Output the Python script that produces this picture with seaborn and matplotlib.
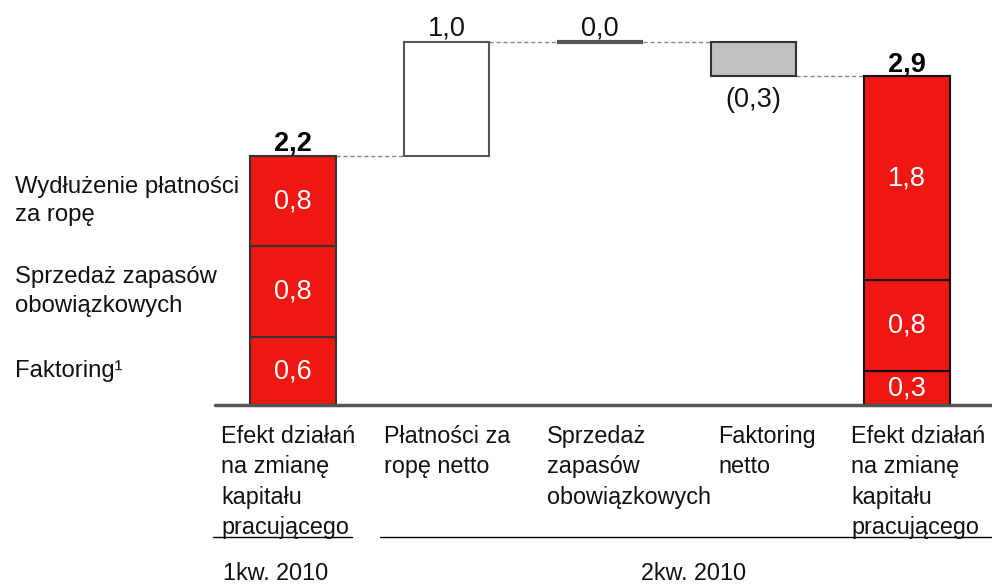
import matplotlib
matplotlib.use("Agg")
import matplotlib.pyplot as plt
import seaborn as sns
import numpy as np
import warnings
warnings.filterwarnings("ignore")

# ---------------- data ----------------
categories = ["Efekt działań\nna zmianę\nkapitału\npracującego",
              "Płatności za\nropę netto",
              "Sprzedaż\nzapasów\nobowiązkowych",
              "Faktoring\nnetto",
              "Efekt działań\nna zmianę\nkapitału\npracującego"]
steps = [2.2, 1.0, 0.0, -0.3, 2.9]          # waterfall values
start_segments = [0.6, 0.8, 0.8]             # 1kw. 2010 composition
end_segments = [0.3, 0.8, 1.8]               # 2kw. 2010 composition
segment_names = ["Faktoring\u00b9", "Sprzedaż zapasów\nobowiązkowych",
                 "Wydłużenie płatności\nza ropę"]
periods = ["1kw. 2010", "2kw. 2010"]

def fmt(v):
    s = f"{abs(v):.1f}".replace(".", ",")
    return f"({s})" if v < 0 else s

# ---------------- style ----------------
sns.set_theme(style="white")
plt.rcParams["font.family"] = ["Liberation Sans", "DejaVu Sans"]

RED = "#ee1712"
W, H = 992, 587
fig = plt.figure(figsize=(W / 100, H / 100), dpi=100)
ax = fig.add_axes([0, 0, 1, 1])

# pixel geometry -> data limits (layout only)
x0px, dxpx = 293, 153.5
y0px, dypx = 405, 113.3
ax.set_xlim(-x0px / dxpx, (W - x0px) / dxpx)
ax.set_ylim(-(H - y0px) / dypx, y0px / dypx)
ax.axis("off")

bw = 0.56
pos = np.arange(len(steps))
VAL_FS = 19.5

def px2fig(x, y):
    return x / W, 1 - y / H

# first stacked total
bottom = 0
for i, s in enumerate(start_segments):
    ax.bar(pos[0], s, bottom=bottom, width=bw, color=RED, edgecolor="#333333", linewidth=1.5, zorder=3)
    ax.text(pos[0], bottom + s / 2, fmt(s), color="white", ha="center", va="center", fontsize=VAL_FS, zorder=5)
    # left-side segment labels
    ax.text(-1.811, bottom + s / 2, segment_names[i], ha="left", va="center", fontsize=17.2,
            linespacing=1.4, color="#111111")
    bottom += s
ax.text(pos[0], steps[0] + 0.045, fmt(steps[0]), ha="center", va="baseline", fontsize=VAL_FS,
        fontweight="bold", color="black")

# floating steps
running = steps[0]
levels = [running]
for i in range(1, 4):
    v = steps[i]
    b = running if v >= 0 else running + v
    if i == 1:
        ax.bar(pos[i], v, bottom=b, width=bw, color="white", edgecolor="#555555", linewidth=1.5, zorder=3)
    elif i == 2:
        ax.bar(pos[i], v, bottom=b, width=bw, color="#555555", edgecolor="#555555", linewidth=3, zorder=3)
    else:
        ax.bar(pos[i], abs(v), bottom=b, width=bw, color="#c0c0c0", edgecolor="#333333", linewidth=1.5, zorder=3)
    if v >= 0:
        ax.text(pos[i], running + v + 0.06, fmt(v), ha="center", va="baseline", fontsize=VAL_FS, color="#111111")
    else:
        ax.text(pos[i], running + v - 0.09, fmt(v), ha="center", va="top", fontsize=VAL_FS, color="#111111")
    running += v
    levels.append(running)

# final stacked total
bottom = 0
for s in end_segments:
    ax.bar(pos[4], s, bottom=bottom, width=bw, color=RED, edgecolor="#111111", linewidth=1.5, zorder=3)
    ax.text(pos[4], bottom + s / 2, fmt(s), color="white", ha="center", va="center", fontsize=VAL_FS, zorder=5)
    bottom += s
ax.text(pos[4], steps[4] + 0.045, fmt(steps[4]), ha="center", va="baseline", fontsize=VAL_FS,
        fontweight="bold", color="black")

# dashed connectors
for i in range(4):
    ax.plot([pos[i] + bw / 2, pos[i + 1] - bw / 2], [levels[i], levels[i]], ls=(0, (3, 2)),
            color="#888888", lw=1, zorder=2)

# baseline
ax.axhline(0, xmin=215 / W, xmax=1, color="#555555", lw=2.5, zorder=4)

# category labels (left aligned under each bar)
cat_x = [221, 384, 547, 718, 851]
for cx, lab in zip(cat_x, categories):
    fx, fy = px2fig(cx, 425)
    fig.text(fx, fy, lab, ha="left", va="top", fontsize=16.8,
             linespacing=1.41, color="#111111")

# period underline
fig.add_artist(plt.Line2D([213 / W, 352 / W], [1 - 537 / H] * 2, color="black", lw=1))
fig.add_artist(plt.Line2D([380 / W, 1.0], [1 - 537 / H] * 2, color="black", lw=1))

for cx, lab in zip([276, 694], periods):
    fx, fy = px2fig(cx, 573)
    fig.text(fx, fy, lab, ha="center", va="center", fontsize=16.8, color="#111111")

fig.savefig("out.png", dpi=100)
